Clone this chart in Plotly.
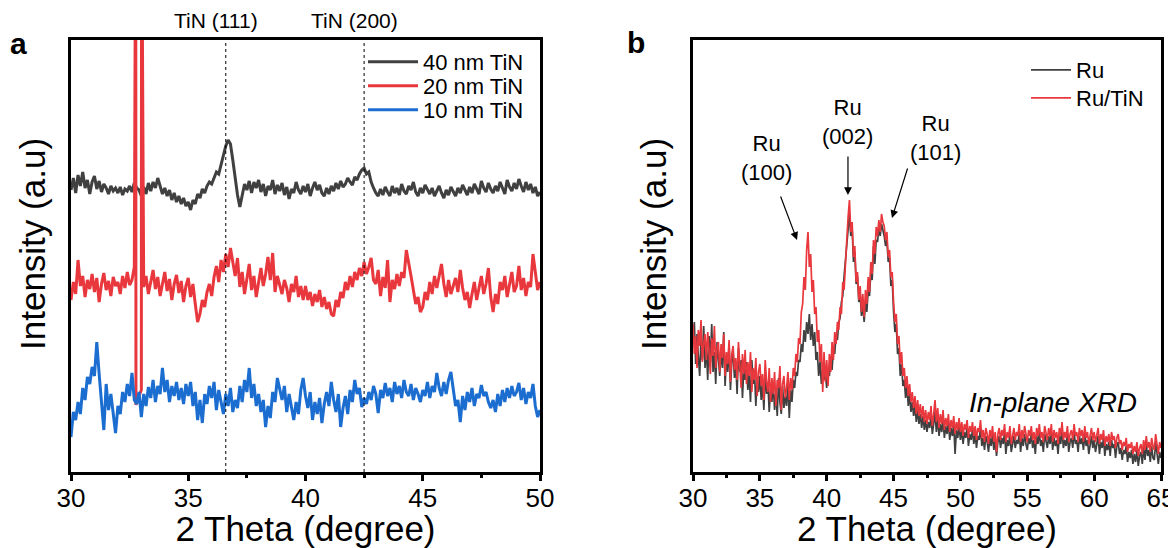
import numpy as np
import pandas as pd
import plotly.graph_objects as go

# page has an 8px body margin, so the figure is 8px smaller on each axis
OFF = 8
W, H = 1176 - OFF, 548 - OFF
FONT = "Liberation Sans, Arial, sans-serif"


def px(x):   # reference pixel -> paper x
    return (x - OFF) / W


def py(y):   # reference pixel -> paper y
    return 1 - (y - OFF) / H


# ---------------- panel a : TiN thickness series ----------------
two_theta_a = np.round(np.arange(30.0, 50.05, 0.1), 1)   # 201 pts

tin_40nm = [
    282, 294, 279, 297, 286, 300, 284, 292, 278, 290,
    296, 283, 291, 280, 288, 284, 278, 286, 281, 284,
    279, 285, 277, 283, 281, 286, 280, 289, 284, 282,
    276, 285, 278, 289, 281, 290, 284, 294, 286, 278,
    284, 276, 282, 272, 279, 270, 276, 268, 274, 266,
    270, 262, 272, 268, 278, 274, 283, 279, 286, 290,
    288, 294, 300, 298, 308, 317, 326, 332, 328, 312,
    294, 277, 265, 278, 288, 282, 291, 279, 290, 284,
    292, 280, 288, 276, 286, 282, 292, 278, 287, 281,
    289, 277, 285, 273, 283, 279, 290, 282, 278, 286,
    280, 288, 276, 284, 290, 282, 287, 279, 276, 284,
    278, 286, 281, 289, 283, 291, 285, 288, 294, 290,
    287, 295, 292, 298, 302, 304, 298, 300, 290, 284,
    279, 276, 283, 277, 285, 280, 276, 286, 279, 284,
    277, 288, 281, 278, 286, 282, 290, 280, 276, 284,
    279, 287, 282, 278, 284, 276, 281, 286, 279, 274,
    282, 277, 285, 280, 276, 284, 279, 287, 281, 277,
    285, 279, 288, 282, 278, 291, 284, 280, 289, 283,
    279, 286, 281, 290, 284, 278, 292, 285, 281, 289,
    283, 293, 286, 280, 290, 282, 288, 279, 285, 276,
    280,
]

tin_20nm = [
    172, 190, 178, 212, 186, 196, 175, 192, 183, 198,
    180, 194, 170, 188, 199, 182, 191, 176, 195, 186,
    190, 178, 196, 184, 200, 187, 192, 205, 70, 76,
    82, 185, 196, 178, 190, 202, 183, 195, 176, 189,
    200, 181, 193, 172, 188, 197, 179, 191, 170, 186,
    194, 175, 188, 168, 150, 158, 172, 165, 180, 188,
    176, 195, 206, 190, 212, 200, 218, 205, 224, 210,
    196, 214, 185, 200, 178, 193, 208, 182, 196, 175,
    190, 204, 186, 198, 215, 192, 219, 180, 196, 188,
    178, 192, 184, 170, 188, 180, 196, 175, 186, 172,
    186, 172, 180, 166, 178, 170, 182, 165, 175, 163,
    170, 158, 156, 172, 165, 180, 174, 190, 182, 196,
    185, 200, 192, 204, 196, 210, 198, 205, 214, 192,
    188, 202, 176, 195, 184, 212, 170, 192, 183, 198,
    186, 200, 194, 222, 210, 196, 182, 168, 175, 160,
    165, 180, 172, 190, 178, 196, 184, 198, 208, 188,
    175, 192, 178, 186, 194, 180, 202, 184, 172, 180,
    164, 178, 190, 172, 185, 196, 178, 188, 204, 175,
    160, 178, 168, 190, 182, 196, 175, 188, 200, 180,
    186, 206, 182, 194, 176, 190, 185, 218, 198, 182,
    190,
]

tin_10nm = [
    35, 60, 52, 70, 58, 84, 72, 95, 88, 105,
    96, 130, 98, 70, 42, 88, 62, 78, 55, 39,
    66, 58, 80, 70, 88, 76, 99, 72, 68, 80,
    55, 78, 66, 85, 74, 92, 70, 86, 78, 104,
    80, 92, 70, 86, 76, 90, 72, 84, 68, 88,
    76, 90, 66, 80, 52, 72, 49, 78, 68, 86,
    74, 90, 62, 82, 70, 58, 78, 66, 84, 60,
    72, 64, 86, 70, 92, 80, 104, 74, 88, 66,
    78, 60, 72, 45, 66, 54, 80, 70, 94, 82,
    72, 86, 60, 78, 64, 52, 70, 58, 82, 94,
    76, 64, 80, 52, 70, 58, 74, 49, 68, 80,
    66, 90, 72, 60, 78, 45, 64, 76, 58, 82,
    70, 92, 78, 84, 65, 74, 68, 80, 72, 86,
    78, 59, 82, 74, 89, 76, 84, 70, 90, 78,
    86, 74, 92, 80, 76, 88, 72, 84, 78, 70,
    82, 76, 90, 74, 86, 80, 99, 84, 76, 90,
    78, 92, 100, 84, 66, 72, 50, 76, 62, 80,
    70, 84, 66, 78, 74, 87, 76, 80, 70, 64,
    72, 60, 78, 66, 82, 70, 84, 74, 86, 76,
    80, 89, 72, 84, 68, 80, 74, 88, 66, 55,
    62,
]

# off-scale spike in the 20 nm scan
glitch_x = [32.76, 32.77, 33.01]
glitch_y = [600, 67, 600]

tin_peaks = [36.6, 42.5]
tin_peak_labels = ["TiN (111)", "TiN (200)"]

# ---------------- panel b : Ru vs Ru/TiN, in-plane ----------------
two_theta_b = np.round(np.arange(30.0, 65.05, 0.1), 1)   # 351 pts

ru = [
    130, 150, 108, 138, 116, 96, 134, 112, 146, 104,
    126, 92, 136, 110, 148, 100, 120, 88, 130, 112,
    96, 122, 104, 140, 86, 116, 100, 128, 82, 110,
    120, 94, 108, 78, 124, 100, 112, 74, 104, 92,
    110, 82, 98, 70, 112, 88, 100, 66, 94, 80,
    96, 72, 88, 62, 100, 78, 90, 60, 84, 70,
    88, 62, 80, 56, 94, 70, 58, 86, 64, 76,
    66, 90, 54, 82, 70, 92, 84, 100, 96, 112,
    110, 128, 120, 142, 130, 150, 138, 158, 132, 148,
    126, 140, 112, 120, 96, 110, 88, 104, 92, 98,
    84, 104, 96, 116, 102, 124, 118, 138, 132, 150,
    154, 170, 176, 196, 210, 228, 240, 258, 236, 244,
    210, 220, 188, 196, 170, 178, 156, 166, 150, 170,
    160, 182, 176, 200, 192, 226, 208, 232, 230, 244,
    236, 248, 242, 236, 226, 232, 210, 214, 186, 192,
    160, 140, 148, 118, 124, 96, 108, 86, 92, 74,
    86, 66, 78, 60, 70, 56, 66, 50, 62, 48,
    58, 44, 56, 42, 52, 40, 50, 44, 56, 38,
    48, 60, 40, 54, 36, 48, 40, 52, 34, 46,
    38, 50, 32, 44, 36, 48, 18, 42, 34, 46,
    32, 42, 28, 40, 34, 44, 26, 38, 32, 42,
    28, 38, 24, 36, 32, 44, 26, 34, 22, 36,
    30, 20, 34, 26, 38, 22, 32, 16, 30, 36,
    24, 34, 28, 40, 18, 32, 26, 38, 20, 30,
    36, 24, 32, 28, 40, 20, 34, 26, 38, 28,
    22, 34, 28, 38, 24, 32, 18, 36, 28, 40,
    26, 32, 20, 38, 30, 24, 36, 28, 40, 22,
    34, 26, 32, 18, 36, 28, 42, 24, 32, 26,
    38, 20, 30, 34, 24, 40, 28, 32, 20, 36,
    28, 34, 22, 38, 26, 32, 18, 30, 36, 24,
    32, 20, 28, 36, 18, 30, 24, 34, 16, 28,
    22, 30, 16, 32, 24, 28, 14, 26, 30, 18,
    24, 12, 22, 18, 26, 10, 20, 14, 22, 8,
    18, 10, 22, 6, 16, 20, 8, 24, 12, 28,
    16, 22, 10, 26, 14, 12, 30, 18, 8, 20,
    14,
]

ru_tin = [
    148, 118, 136, 104, 142, 126, 152, 110, 128, 138,
    112, 140, 120, 98, 134, 116, 146, 104, 124, 130,
    100, 128, 114, 138, 96, 120, 108, 132, 90, 118,
    126, 102, 114, 92, 130, 106, 84, 118, 98, 122,
    88, 110, 96, 120, 80, 104, 92, 114, 76, 100,
    108, 86, 98, 72, 112, 90, 80, 104, 70, 94,
    78, 100, 66, 92, 84, 106, 62, 88, 96, 74,
    84, 100, 72, 94, 82, 104, 96, 118, 110, 134,
    128, 160, 168, 195, 182, 222, 240, 205, 218, 180,
    192, 158, 165, 130, 142, 110, 128, 80, 120, 90,
    112, 86, 118, 100, 130, 112, 140, 128, 150, 142,
    165, 158, 190, 182, 215, 232, 255, 272, 240, 250,
    215, 226, 190, 200, 172, 186, 160, 178, 155, 182,
    168, 195, 180, 210, 198, 232, 218, 245, 236, 252,
    240, 258, 250, 246, 232, 240, 215, 222, 195, 200,
    170, 150, 158, 128, 136, 108, 120, 96, 104, 84,
    96, 76, 88, 70, 80, 64, 76, 58, 72, 56,
    68, 54, 66, 50, 62, 48, 60, 52, 66, 46,
    58, 72, 50, 64, 44, 58, 48, 62, 42, 54,
    46, 58, 40, 52, 44, 56, 38, 50, 42, 54,
    40, 50, 36, 48, 42, 52, 34, 46, 40, 50,
    36, 46, 32, 44, 40, 52, 34, 42, 30, 44,
    38, 28, 42, 34, 46, 30, 40, 20, 38, 44,
    32, 42, 36, 48, 30, 40, 34, 46, 28, 38,
    44, 32, 40, 36, 48, 30, 42, 34, 46, 38,
    30, 42, 36, 46, 32, 40, 28, 44, 36, 48,
    34, 40, 30, 46, 38, 32, 44, 36, 48, 30,
    42, 34, 40, 28, 44, 36, 50, 32, 40, 34,
    46, 30, 38, 42, 32, 48, 36, 40, 30, 44,
    36, 42, 30, 46, 34, 40, 28, 38, 44, 32,
    40, 30, 36, 44, 28, 38, 32, 42, 26, 36,
    30, 38, 26, 40, 32, 36, 24, 34, 38, 28,
    32, 22, 30, 26, 34, 20, 28, 24, 30, 18,
    26, 20, 30, 16, 24, 28, 18, 32, 22, 36,
    24, 30, 20, 34, 26, 22, 38, 28, 18, 30,
    24,
]

GRAY = "#404040"
RED = "#e8383d"
BLUE = "#1c6dd0"

# 20 nm scan with the spike put back in order
df20 = pd.concat([
    pd.DataFrame({"x": two_theta_a, "y": tin_20nm}),
    pd.DataFrame({"x": glitch_x, "y": glitch_y}),
]).sort_values("x")

fig = go.Figure()
fig.add_trace(go.Scatter(x=two_theta_a, y=tin_40nm, mode="lines", name="40 nm TiN",
                         line=dict(color=GRAY, width=3), xaxis="x", yaxis="y",
                         legend="legend"))
fig.add_trace(go.Scatter(x=df20["x"], y=df20["y"], mode="lines", name="20 nm TiN",
                         line=dict(color=RED, width=3), xaxis="x", yaxis="y",
                         legend="legend3"))
fig.add_trace(go.Scatter(x=two_theta_a, y=tin_10nm, mode="lines", name="10 nm TiN",
                         line=dict(color=BLUE, width=3), xaxis="x", yaxis="y",
                         legend="legend4"))

fig.add_trace(go.Scatter(x=two_theta_b, y=ru, mode="lines", name="Ru",
                         line=dict(color=GRAY, width=1.7), xaxis="x2", yaxis="y2",
                         legend="legend2"))
fig.add_trace(go.Scatter(x=two_theta_b, y=ru_tin, mode="lines", name="Ru/TiN",
                         line=dict(color=RED, width=1.7), xaxis="x2", yaxis="y2",
                         legend="legend5"))

ydom = [py(472), py(40)]
xcommon = dict(showline=True, linewidth=3, linecolor="black", mirror=True,
               ticks="outside", ticklen=6, tickwidth=2.5, tickcolor="black",
               showgrid=False, zeroline=False, automargin=False,
               ticklabelstandoff=-5,
               tickfont=dict(size=26, color="black", family=FONT),
               minor=dict(ticks="outside", ticklen=3, tickwidth=2.5, tickcolor="black", dtick=2.5),
               title=dict(text="2 Theta (degree)", font=dict(size=35, color="black", family=FONT),
                          standoff=8))
ycommon = dict(showline=True, linewidth=3, linecolor="black", mirror=True,
               showticklabels=False, ticks="", showgrid=False, zeroline=False,
               automargin=False, range=[0, 432])


def leg(x_ref, y_ref, width):
    return dict(x=px(x_ref), y=py(y_ref), xanchor="left", yanchor="middle",
                font=dict(size=22, family=FONT, color="black"),
                bgcolor="rgba(0,0,0,0)", itemwidth=width)


fig.update_layout(
    width=W, height=H,
    margin=dict(l=0, r=0, t=0, b=0),
    plot_bgcolor="white", paper_bgcolor="white",
    font=dict(family=FONT, color="black"),
    xaxis=dict(xcommon, domain=[px(71), px(540)], range=[30, 50], dtick=5, anchor="y"),
    yaxis=dict(ycommon, domain=ydom, anchor="x"),
    xaxis2=dict(xcommon, domain=[px(693), px(1161)], range=[30, 65], dtick=5, anchor="y2"),
    yaxis2=dict(ycommon, domain=ydom, anchor="x2"),
    legend=leg(363, 62, 50),
    legend3=leg(363, 86, 50),
    legend4=leg(363, 110, 50),
    legend2=leg(1026, 70, 40),
    legend5=leg(1026, 98, 40),
    showlegend=True,
)

# y titles (placed slightly above the plot centre, as in the original)
for xc in (32, 653):
    fig.add_annotation(x=px(xc), y=py(244), xref="paper", yref="paper",
                       text="Intensity (a.u)", textangle=-90, showarrow=False,
                       xanchor="center", yanchor="middle",
                       font=dict(size=35, color="black", family=FONT))

# dashed TiN reference lines + labels
for xp, lab in zip(tin_peaks, tin_peak_labels):
    fig.add_shape(type="line", xref="x", yref="y domain", x0=xp, x1=xp, y0=0, y1=1,
                  line=dict(color="black", width=1, dash="3px,3px"))
    fig.add_annotation(x=xp, xref="x", y=py(20), yref="paper", text=lab,
                       xanchor="center", yanchor="middle", showarrow=False, xshift=-10,
                       font=dict(size=21, color="black"))

# Ru peak labels with arrows
ru_labels = ["Ru<br>(100)", "Ru<br>(002)", "Ru<br>(101)"]
ru_label_pos = [(35.53, 314), (41.59, 350), (48.1, 334)]
ru_arrow_tail = [(36.51, 277), (41.59, 317), (46.08, 305)]
ru_arrow_head = [(37.78, 232), (41.59, 277), (44.88, 254)]
for lab, (lx, ly), (tx, ty), (hx, hy) in zip(ru_labels, ru_label_pos, ru_arrow_tail, ru_arrow_head):
    fig.add_annotation(x=lx, y=ly, xref="x2", yref="y2", text=lab, showarrow=False,
                       xanchor="center", yanchor="middle", font=dict(size=22, color="black"))
    fig.add_annotation(x=hx, y=hy, ax=tx, ay=ty, xref="x2", yref="y2", axref="x2", ayref="y2",
                       text="", showarrow=True, arrowhead=2, arrowsize=1.3, arrowwidth=1.2,
                       arrowcolor="black")

fig.add_annotation(x=56.9, y=70, xref="x2", yref="y2", text="<i>In-plane XRD</i>",
                   xanchor="center", yanchor="middle", showarrow=False,
                   font=dict(size=28, color="black"))

# panel letters
fig.add_annotation(x=px(18), y=py(44), xref="paper", yref="paper", text="<b>a</b>",
                   xanchor="center", yanchor="middle", showarrow=False,
                   font=dict(size=30, color="black"))
fig.add_annotation(x=px(636), y=py(42), xref="paper", yref="paper", text="<b>b</b>",
                   xanchor="center", yanchor="middle", showarrow=False,
                   font=dict(size=30, color="black"))

fig.write_html("out.html")
